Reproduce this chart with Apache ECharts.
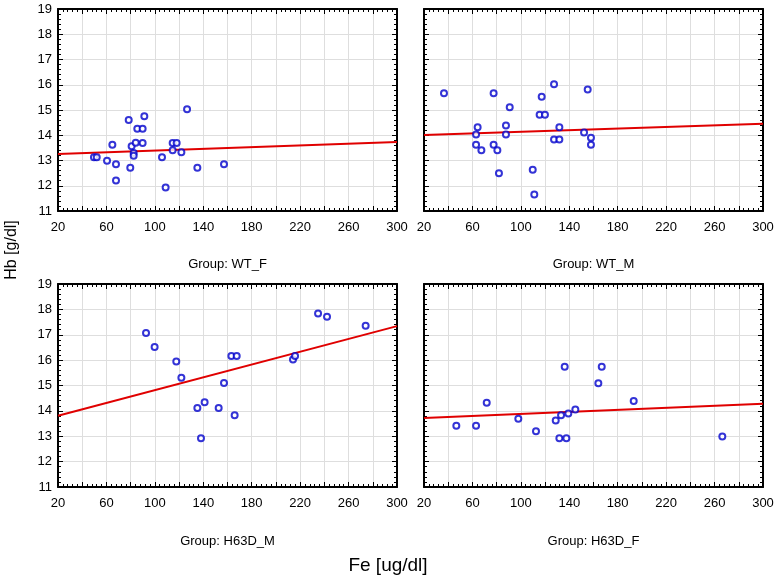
<!DOCTYPE html>
<html>
<head>
<meta charset="utf-8">
<script src="https://cdn.jsdelivr.net/npm/echarts@6/dist/echarts.min.js"></script>
<style>html,body{margin:0;padding:0;background:#fff;}#c{width:777px;height:575px;}</style>
</head>
<body>
<div id="c"></div>
<script>
// ---- data ----
var groupNames = ['Group: WT_F', 'Group: WT_M', 'Group: H63D_M', 'Group: H63D_F'];
var xTickLabels = [20, 60, 100, 140, 180, 220, 260, 300];
var yTickLabels = [11, 12, 13, 14, 15, 16, 17, 18, 19];

var wtF_fe = [49.7,52,60.5,64.9,67.9,67.9,78.4,79.7,80.8,82.5,82.5,84.2,85.5,89.9,89.9,91.3,105.9,108.9,114.7,114.7,118.0,121.9,126.6,135.1,157.1];
var wtF_hb = [13.13,13.13,12.99,13.62,12.85,12.21,14.60,12.71,13.56,13.30,13.19,13.70,14.26,14.26,13.69,14.75,13.13,11.93,13.69,13.41,13.69,13.33,15.03,12.71,12.85];

var wtM_fe = [36.5,63.0,64.3,63.0,67.4,77.5,77.5,80.6,81.9,87.7,87.7,90.8,109.8,111.1,115.5,117.2,119.9,127.4,127.4,131.8,131.8,152.2,155.2,157.9,157.9];
var wtM_hb = [15.66,14.03,14.32,13.62,13.41,15.66,13.62,13.41,12.50,14.39,14.03,15.11,12.63,11.65,14.81,15.52,14.81,16.02,13.83,14.32,13.83,14.11,15.81,13.90,13.62];

var h63dM_fe = [92.7,99.8,117.7,121.9,135.1,138.1,141.1,152.7,157.1,163.2,167.6,165.9,214.1,215.8,234.8,242.2,274.1];
var h63dM_hb = [17.07,16.52,15.95,15.31,14.11,12.92,14.34,14.11,15.10,16.16,16.16,13.83,16.02,16.16,17.84,17.71,17.35];

var h63dF_fe = [46.7,63.0,71.8,97.9,112.5,128.8,131.8,133.2,136.2,137.6,139.2,145.0,164.0,166.8,193.2,266.4];
var h63dF_hb = [13.41,13.41,14.32,13.69,13.20,13.62,12.92,13.83,15.74,12.92,13.90,14.05,15.09,15.74,14.39,12.99];

// fitted regression lines (values at x = 20 and x = 300)
var fitX = [20, 300];
var wtF_fit = [13.26, 13.73];
var wtM_fit = [14.01, 14.46];
var h63dM_fit = [13.81, 17.34];
var h63dF_fit = [13.72, 14.28];

// ---- build ----
var FONT = '"Liberation Sans", Arial, sans-serif';
var panels = [
  {fe: wtF_fe, hb: wtF_hb, fit: wtF_fit},
  {fe: wtM_fe, hb: wtM_hb, fit: wtM_fit},
  {fe: h63dM_fe, hb: h63dM_hb, fit: h63dM_fit},
  {fe: h63dF_fe, hb: h63dF_hb, fit: h63dF_fit}
];
var gridPos = [
  {left: 58, top: 9, width: 339, height: 202},
  {left: 424, top: 9, width: 339, height: 202},
  {left: 58, top: 284, width: 339, height: 203},
  {left: 424, top: 284, width: 339, height: 203}
];

var grids = [], xAxes = [], yAxes = [], series = [], graphics = [];
var lineStyleAxis = {color: '#000', width: 2};
var tickCommon = {inside: true, length: 5, lineStyle: {color: '#000', width: 1}};
var minorCommon = {show: true, splitNumber: 5, length: 3, lineStyle: {color: '#000', width: 1}};

panels.forEach(function (p, i) {
  var g = gridPos[i];
  grids.push({left: g.left, top: g.top, width: g.width, height: g.height, containLabel: false});
  xAxes.push({
    type: 'value', gridIndex: i, position: 'bottom', min: 20, max: 300, interval: 20,
    axisLine: {show: true, onZero: false, lineStyle: lineStyleAxis},
    axisTick: tickCommon, minorTick: minorCommon,
    splitLine: {show: true, lineStyle: {color: '#dedede', width: 1}},
    axisLabel: {
      show: true, color: '#000', fontFamily: FONT, fontSize: 13, margin: 10,
      showMinLabel: true, showMaxLabel: true,
      formatter: function (v) { return xTickLabels.indexOf(v) >= 0 ? String(v) : ''; }
    }
  });
  xAxes.push({
    type: 'value', gridIndex: i, position: 'top', min: 20, max: 300, interval: 20,
    axisLine: {show: true, onZero: false, lineStyle: lineStyleAxis},
    axisTick: tickCommon, minorTick: minorCommon,
    splitLine: {show: false}, axisLabel: {show: false}
  });
  yAxes.push({
    type: 'value', gridIndex: i, position: 'left', min: 11, max: 19, interval: 1,
    axisLine: {show: true, onZero: false, lineStyle: lineStyleAxis},
    axisTick: tickCommon, minorTick: minorCommon,
    splitLine: {show: true, lineStyle: {color: '#dedede', width: 1}},
    axisLabel: {
      show: (i % 2 === 0), color: '#000', fontFamily: FONT, fontSize: 13, margin: 6,
      formatter: function (v) { return yTickLabels.indexOf(v) >= 0 ? String(v) : ''; }
    }
  });
  yAxes.push({
    type: 'value', gridIndex: i, position: 'right', min: 11, max: 19, interval: 1,
    axisLine: {show: true, onZero: false, lineStyle: lineStyleAxis},
    axisTick: tickCommon, minorTick: minorCommon,
    splitLine: {show: false}, axisLabel: {show: false}
  });

  series.push({
    type: 'line', xAxisIndex: 2 * i, yAxisIndex: 2 * i,
    data: fitX.map(function (x, k) { return [x, p.fit[k]]; }),
    symbol: 'none', lineStyle: {color: '#e00000', width: 2}, z: 2, silent: true
  });
  series.push({
    type: 'scatter', xAxisIndex: 2 * i, yAxisIndex: 2 * i,
    data: p.fe.map(function (x, k) { return [x, p.hb[k]]; }),
    symbol: 'emptyCircle', symbolSize: 6,
    itemStyle: {color: '#0000cc', borderColor: '#0000cc', borderWidth: 2},
    z: 3, silent: true
  });

  graphics.push({
    type: 'text', x: g.left + g.width / 2, y: (i < 2 ? 264 : 541),
    style: {text: groupNames[i], fill: '#000', font: '13px ' + FONT,
            align: 'center', verticalAlign: 'middle', textAlign: 'center', textVerticalAlign: 'middle'}
  });
});

graphics.push({
  type: 'text', x: 388, y: 566,
  style: {text: 'Fe [ug/dl]', fill: '#000', font: '19px ' + FONT,
          align: 'center', verticalAlign: 'middle', textAlign: 'center', textVerticalAlign: 'middle'}
});
graphics.push({
  type: 'text', x: 12, y: 250, rotation: Math.PI / 2,
  style: {text: 'Hb [g/dl]', fill: '#000', font: '16px ' + FONT,
          align: 'center', verticalAlign: 'middle', textAlign: 'center', textVerticalAlign: 'middle'}
});

var chart = echarts.init(document.getElementById('c'), null, {renderer: 'canvas'});
chart.setOption({
  animation: false,
  backgroundColor: '#fff',
  grid: grids, xAxis: xAxes, yAxis: yAxes, series: series, graphic: graphics
});
</script>
</body>
</html>
